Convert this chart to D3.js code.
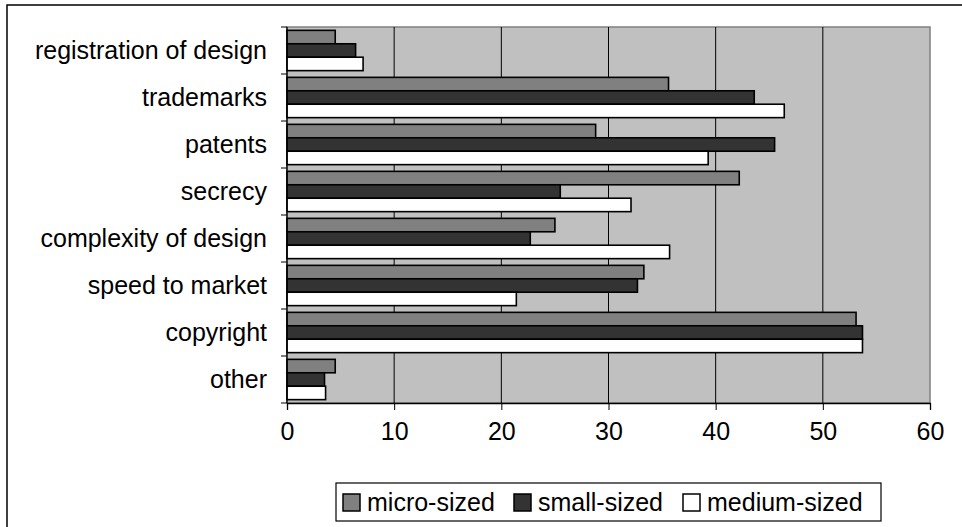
<!DOCTYPE html>
<html>
<head>
<meta charset="utf-8">
<script src="https://cdn.jsdelivr.net/npm/d3@7"></script>
<style>
  body { margin: 0; background: #fff; }
  svg text { font-family: "Liberation Sans", Arial, sans-serif; fill: #000; }
</style>
</head>
<body>
<svg id="chart" width="962" height="527"></svg>
<script>
// categories, top to bottom
var categories = ["registration of design", "trademarks", "patents", "secrecy",
    "complexity of design", "speed to market", "copyright", "other"];
var seriesNames = ["micro-sized", "small-sized", "medium-sized"];
var microSized = [4.5, 35.6, 28.8, 42.2, 25.0, 33.3, 53.1, 4.5];
var smallSized = [6.4, 43.6, 45.5, 25.5, 22.7, 32.7, 53.7, 3.5];
var mediumSized = [7.1, 46.4, 39.3, 32.1, 35.7, 21.4, 53.7, 3.6];
var xTicks = [0, 10, 20, 30, 40, 50, 60];
var colors = ["#808080", "#333333", "#ffffff"];

var svg = d3.select("#chart");
var plotLeft = 287, plotTop = 27, plotRight = 930, plotBottom = 403;

// outer chart frame
svg.append("rect")
    .attr("x", 7).attr("y", 5)
    .attr("width", 970).attr("height", 540)
    .attr("fill", "none").attr("stroke", "#000").attr("stroke-width", 1.5);

var x = d3.scaleLinear().domain([0, 60]).range([plotLeft, plotRight]);
var y = d3.scaleBand().domain(categories).range([plotTop, plotBottom]);
// 3 bars take 2/3 of each band
var inner = d3.scaleBand().domain(seriesNames)
    .range([0, y.bandwidth()]).paddingOuter(0.25);

// plot background
svg.append("rect")
    .attr("x", plotLeft).attr("y", plotTop)
    .attr("width", plotRight - plotLeft).attr("height", plotBottom - plotTop)
    .attr("fill", "#c0c0c0").attr("stroke", "#808080").attr("stroke-width", 1.5);

// vertical gridlines
svg.selectAll(".grid")
    .data(xTicks.slice(1, -1))
    .enter().append("line")
    .attr("class", "grid")
    .attr("x1", function (d) { return x(d); })
    .attr("x2", function (d) { return x(d); })
    .attr("y1", plotTop).attr("y2", plotBottom)
    .attr("stroke", "#000").attr("stroke-width", 1);

var data = [microSized, smallSized, mediumSized];
categories.forEach(function (c, i) {
    var g = svg.append("g").attr("transform", "translate(0," + y(c) + ")");
    g.selectAll("rect")
        .data(seriesNames)
        .enter().append("rect")
        .attr("x", x(0))
        .attr("y", function (s) { return inner(s); })
        .attr("width", function (s, k) { return x(data[k][i]) - x(0); })
        .attr("height", inner.bandwidth())
        .attr("fill", function (s, k) { return colors[k]; })
        .attr("stroke", "#000").attr("stroke-width", 1.6);
});

// x axis
var xAxis = svg.append("g")
    .attr("transform", "translate(0," + plotBottom + ")")
    .call(d3.axisBottom(x).tickValues(xTicks).tickSize(7).tickPadding(12));
xAxis.select(".domain").attr("stroke", "#000").attr("stroke-width", 1.3);
xAxis.selectAll(".tick line").attr("stroke", "#000");
xAxis.selectAll("text").style("font-size", "25px").attr("fill", "#000");

// y axis: ticks on band boundaries
var yEdges = categories.map(function (c) { return y(c); }).concat([plotBottom]);
svg.append("line")
    .attr("x1", plotLeft).attr("x2", plotLeft).attr("y1", plotTop).attr("y2", plotBottom)
    .attr("stroke", "#000").attr("stroke-width", 1.3);
svg.selectAll(".ytick")
    .data(yEdges)
    .enter().append("line")
    .attr("x1", plotLeft - 6).attr("x2", plotLeft)
    .attr("y1", function (d) { return d; })
    .attr("y2", function (d) { return d; })
    .attr("stroke", "#000");
svg.selectAll(".ylabel")
    .data(categories)
    .enter().append("text")
    .attr("x", 267)
    .attr("y", function (d) { return y(d) + y.bandwidth() / 2; })
    .attr("dy", "0.35em")
    .attr("text-anchor", "end")
    .style("font-size", "25px")
    .text(function (d) { return d; });

// legend
var legend = svg.append("g");
legend.append("rect")
    .attr("x", 336).attr("y", 483)
    .attr("width", 545).attr("height", 38)
    .attr("fill", "#fff").attr("stroke", "#000").attr("stroke-width", 1.2);
var legendX = [343, 514, 683];
seriesNames.forEach(function (s, k) {
    legend.append("rect")
        .attr("x", legendX[k]).attr("y", 494)
        .attr("width", 17).attr("height", 17)
        .attr("fill", colors[k]).attr("stroke", "#000").attr("stroke-width", 1.5);
    legend.append("text")
        .attr("x", legendX[k] + 24).attr("y", 511)
        .style("font-size", "25px")
        .text(s);
});
</script>
</body>
</html>
